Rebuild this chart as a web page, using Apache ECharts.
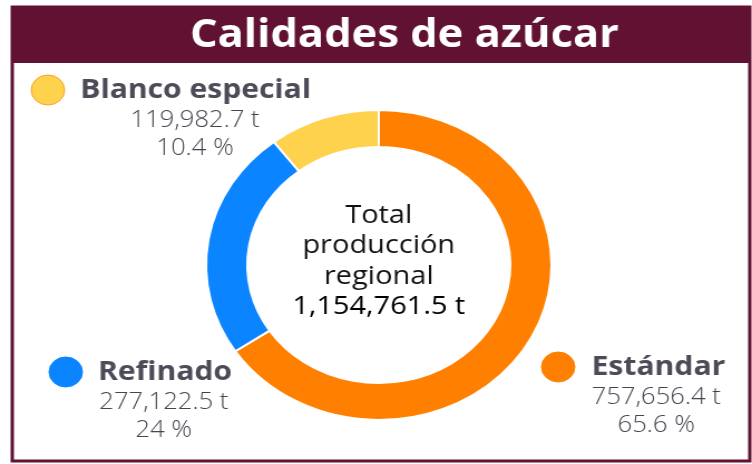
<!DOCTYPE html>
<html>
<head>
<meta charset="utf-8">
<script src="https://cdn.jsdelivr.net/npm/echarts@6/dist/echarts.min.js"></script>
<style>
  html, body { margin: 0; padding: 0; background: #fff; overflow: hidden; }
  /* the reference is stretched horizontally, so the chart is too */
  #main { width: 675px; height: 464px; transform: scaleX(1.1141); transform-origin: 0 0; }
</style>
</head>
<body>
<div id="main"></div>
<script>
var titleText = 'Calidades de azúcar';
var categories = ['Estándar', 'Refinado', 'Blanco especial'];
var values = [757656.4, 277122.5, 119982.7];
var percentLabels = ['65.6 %', '24 %', '10.4 %'];
var totalValue = 1154761.5;
var colors = ['#ff8000', '#0a84ff', '#ffd24d'];

function fmt(v) {
    return v.toLocaleString('en-US', { minimumFractionDigits: 1, maximumFractionDigits: 1 }) + ' t';
}

var chart = echarts.init(document.getElementById('main'));

// where each label block sits: marker centre, name left, values centre, name y
var labelPos = [
    { mx: 501, nx: 531, vx: 589, y: 367 },
    { mx: 59, nx: 88, vx: 147, y: 372 },
    { mx: 43, nx: 72, vx: 175, y: 90 }
];

var graphics = [
    { type: 'rect', shape: { x: 11, y: 7, width: 662, height: 454 },
      style: { fill: '#fff', stroke: '#611232', lineWidth: 3 }, z: -1 },
    { type: 'rect', shape: { x: 11, y: 7, width: 662, height: 56 },
      style: { fill: '#611232' }, z: 0 },
    { type: 'text', x: 363, y: 36, z: 1,
      style: { text: titleText, fill: '#fff', font: 'bold 39px "Open Sans"',
               textAlign: 'center', textVerticalAlign: 'middle' } }
];

categories.forEach(function (name, i) {
    var p = labelPos[i];
    graphics.push({ type: 'circle', shape: { cx: p.mx, cy: p.y, r: 15 },
        style: { fill: colors[i], stroke: i === 2 ? '#f5a623' : colors[i], lineWidth: 1 } });
    graphics.push({ type: 'text', x: p.nx, y: p.y,
        style: { text: name, fill: '#4d4b57', font: 'bold 27px "Open Sans"',
                 textAlign: 'left', textVerticalAlign: 'middle' } });
    graphics.push({ type: 'text', x: p.vx, y: p.y + 30,
        style: { text: fmt(values[i]), fill: '#46444f', font: '300 23px "Open Sans"',
                 textAlign: 'center', textVerticalAlign: 'middle' } });
    graphics.push({ type: 'text', x: p.vx, y: p.y + 58,
        style: { text: percentLabels[i], fill: '#46444f', font: '300 23px "Open Sans"',
                 textAlign: 'center', textVerticalAlign: 'middle' } });
});

graphics.push({ type: 'text', x: 340, y: 261,
    style: { text: 'Total\nproducción\nregional\n{b|' + fmt(totalValue) + '}',
             fill: '#111', font: '26px "Open Sans"', lineHeight: 30.5,
             textAlign: 'center', textVerticalAlign: 'middle',
             rich: { b: { fontSize: 26, fontWeight: 500, fontFamily: 'Open Sans', fill: '#000', lineHeight: 30.5 } } } });

var option = {
    animation: false,
    color: colors,
    graphic: graphics,
    series: [
        {
            type: 'pie',
            center: [340, 265],
            radius: [118, 155],
            startAngle: 90,
            clockwise: true,
            label: { show: false },
            labelLine: { show: false },
            itemStyle: { borderColor: '#fff', borderWidth: 2 },
            data: categories.map(function (c, i) { return { name: c, value: values[i] }; })
        }
    ]
};

chart.setOption(option);
</script>
</body>
</html>
